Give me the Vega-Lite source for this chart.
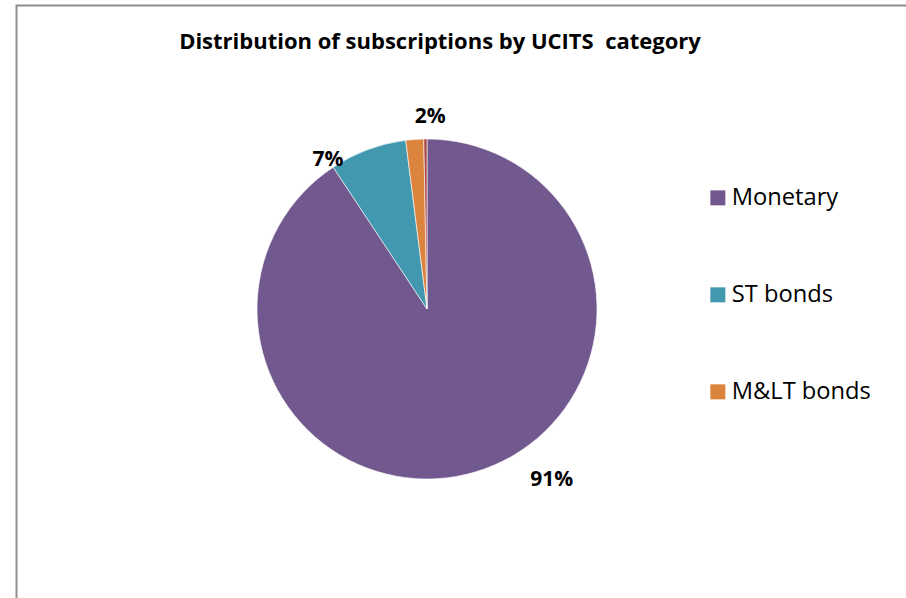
{
  "$schema": "https://vega.github.io/schema/vega-lite/v6.json",
  "autosize": {"type": "none"},
  "padding": {"left": 17, "top": 6, "right": 0, "bottom": 0},
  "width": 900,
  "height": 600,
  "background": "white",
  "config": {"view": {"stroke": null}, "font": "Open Sans"},
  "title": {
    "text": "Distribution of subscriptions by UCITS\u00a0 category",
    "font": "Open Sans",
    "fontSize": 22,
    "fontWeight": "bold",
    "color": "black",
    "anchor": "middle",
    "dx": -27,
    "dy": 53
  },
  "data": {
    "values": [
      {"idx": 1, "category": "Monetary", "share": 90.7, "label": "91%"},
      {"idx": 2, "category": "ST bonds", "share": 7.3, "label": "7%"},
      {"idx": 3, "category": "M&LT bonds", "share": 1.7, "label": "2%"},
      {"idx": 4, "category": "Other", "share": 0.3, "label": ""}
    ]
  },
  "layer": [
    {
      "data": {"values": [{"frame": "chart area"}]},
      "mark": {"type": "rect", "x": -0.5, "y": -0.5, "x2": {"expr": "width + 10"}, "y2": {"expr": "height + 10"}, "fill": null, "stroke": "#8e8e8e", "strokeWidth": 2},
      "encoding": {}
    },
    {
      "data": {"values": [{"frame": "outer edge"}]},
      "mark": {"type": "rule", "x": -16, "y": -10, "y2": {"expr": "height + 10"}, "stroke": "#a0a0a0", "strokeWidth": 1.5},
      "encoding": {}
    },
    {
      "mark": {"type": "arc", "outerRadius": 170, "x": 410, "y": 303, "stroke": "white", "strokeWidth": 0.6},
      "encoding": {
        "theta": {"field": "share", "type": "quantitative", "stack": true},
        "order": {"field": "idx", "type": "quantitative"},
        "color": {
          "field": "category",
          "type": "nominal",
          "scale": {
            "domain": ["Monetary", "ST bonds", "M&LT bonds", "Other"],
            "range": ["#71588F", "#4198AF", "#DB843D", "#AA4643"]
          },
          "legend": {
            "values": ["Monetary", "ST bonds", "M&LT bonds"],
            "title": null,
            "orient": "none",
            "legendX": 689,
            "legendY": 180,
            "padding": 0,
            "symbolType": "square",
            "symbolSize": 225,
            "symbolStrokeWidth": 0,
            "labelFont": "Open Sans",
            "labelFontSize": 23.7,
            "labelColor": "black",
            "labelOffset": 2,
            "rowPadding": 72
          }
        }
      }
    },
    {
      "mark": {
        "type": "text",
        "radius": 190,
        "x": 410,
        "y": 303,
        "font": "Open Sans",
        "fontSize": 21,
        "fontWeight": "bold",
        "color": "black",
        "align": "center",
        "baseline": "middle",
        "dx": {"expr": "datum.category === 'Monetary' ? 70 : datum.category === 'ST bonds' ? -33 : 17"},
        "dy": {"expr": "datum.category === 'Monetary' ? -11 : datum.category === 'ST bonds' ? 29 : -2"}
      },
      "encoding": {
        "theta": {"field": "share", "type": "quantitative", "stack": true},
        "order": {"field": "idx", "type": "quantitative"},
        "text": {"field": "label"}
      }
    }
  ]
}
